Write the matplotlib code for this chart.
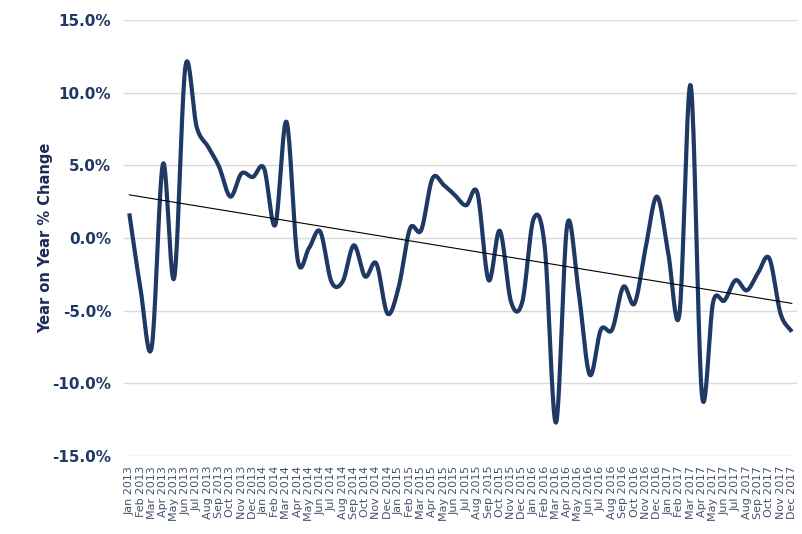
import numpy as np
import matplotlib
matplotlib.use('Agg')
import matplotlib.pyplot as plt
from matplotlib.ticker import FuncFormatter

months = ['Jan', 'Feb', 'Mar', 'Apr', 'May', 'Jun', 'Jul', 'Aug', 'Sep', 'Oct', 'Nov', 'Dec']
years = [2013, 2014, 2015, 2016, 2017]
labels = [f"{m} {y}" for y in years for m in months]

# year on year % change
yoy = [1.7, -3.5, -7.5, 5.1, -2.75, 11.8, 7.65, 6.3, 4.9, 2.85, 4.45, 4.2,
       4.8, 0.9, 8.0, -1.5, -0.7, 0.45, -3.0, -3.0, -0.5, -2.65, -1.75, -5.2,
       -3.35, 0.65, 0.55, 4.1, 3.65, 2.95, 2.25, 3.1, -2.9, 0.5, -4.4, -4.4,
       1.3, -0.6, -12.7, 0.9, -3.6, -9.4, -6.3, -6.3, -3.35, -4.5, -0.6, 2.85,
       -1.05, -5.2, 10.5, -10.8, -4.4, -4.3, -2.9, -3.6, -2.4, -1.4, -5.2, -6.45]

navy = '#1f3864'


def smooth(x, y, n=20):
    # catmull-rom through the points, like excel's smoothed line
    x = np.asarray(x, float)
    y = np.asarray(y, float)
    px = np.concatenate([[2 * x[0] - x[1]], x, [2 * x[-1] - x[-2]]])
    py = np.concatenate([[2 * y[0] - y[1]], y, [2 * y[-1] - y[-2]]])
    xs, ys = [], []
    t = np.linspace(0, 1, n, endpoint=False)
    for i in range(1, len(px) - 2):
        for p, out in ((px, xs), (py, ys)):
            p0, p1, p2, p3 = p[i - 1], p[i], p[i + 1], p[i + 2]
            out.extend(0.5 * ((2 * p1) + (-p0 + p2) * t
                              + (2 * p0 - 5 * p1 + 4 * p2 - p3) * t ** 2
                              + (-p0 + 3 * p1 - 3 * p2 + p3) * t ** 3))
    xs.append(x[-1])
    ys.append(y[-1])
    return np.array(xs), np.array(ys)


x = np.arange(len(yoy))
sx, sy = smooth(x, yoy)

fig = plt.figure(figsize=(8.03, 5.34), dpi=100)
ax = fig.add_axes([0.154, 0.146, 0.839, 0.8165])

ax.plot(sx, sy, color=navy, lw=3.0, solid_capstyle='butt', zorder=3)

# linear trend
k, b = np.polyfit(x, yoy, 1)
ax.plot(x, k * x + b, color='black', lw=0.8, zorder=4)

ax.set_xlim(-0.5, len(yoy) - 0.5)
ax.set_ylim(-15, 15)
ax.set_yticks(np.arange(-15, 16, 5))
ax.yaxis.set_major_formatter(FuncFormatter(lambda v, p: f"{v:.1f}%"))
ax.set_xticks(x)
ax.set_xticklabels(labels, rotation=90, fontsize=8, color='#44516e')

ax.grid(axis='y', color='#d9d9d9', lw=1)
ax.set_axisbelow(True)
for s in ax.spines.values():
    s.set_visible(False)
ax.tick_params(axis='both', length=0)
ax.tick_params(axis='x', pad=7)
ax.tick_params(axis='y', pad=9)
for t in ax.get_yticklabels():
    t.set_fontweight('bold')
    t.set_fontsize(11)
    t.set_color(navy)

ax.set_ylabel('Year on Year % Change', fontsize=10.5, fontweight='bold', color='#1c2a58', labelpad=-1)

fig.savefig('out.png', dpi=100)
